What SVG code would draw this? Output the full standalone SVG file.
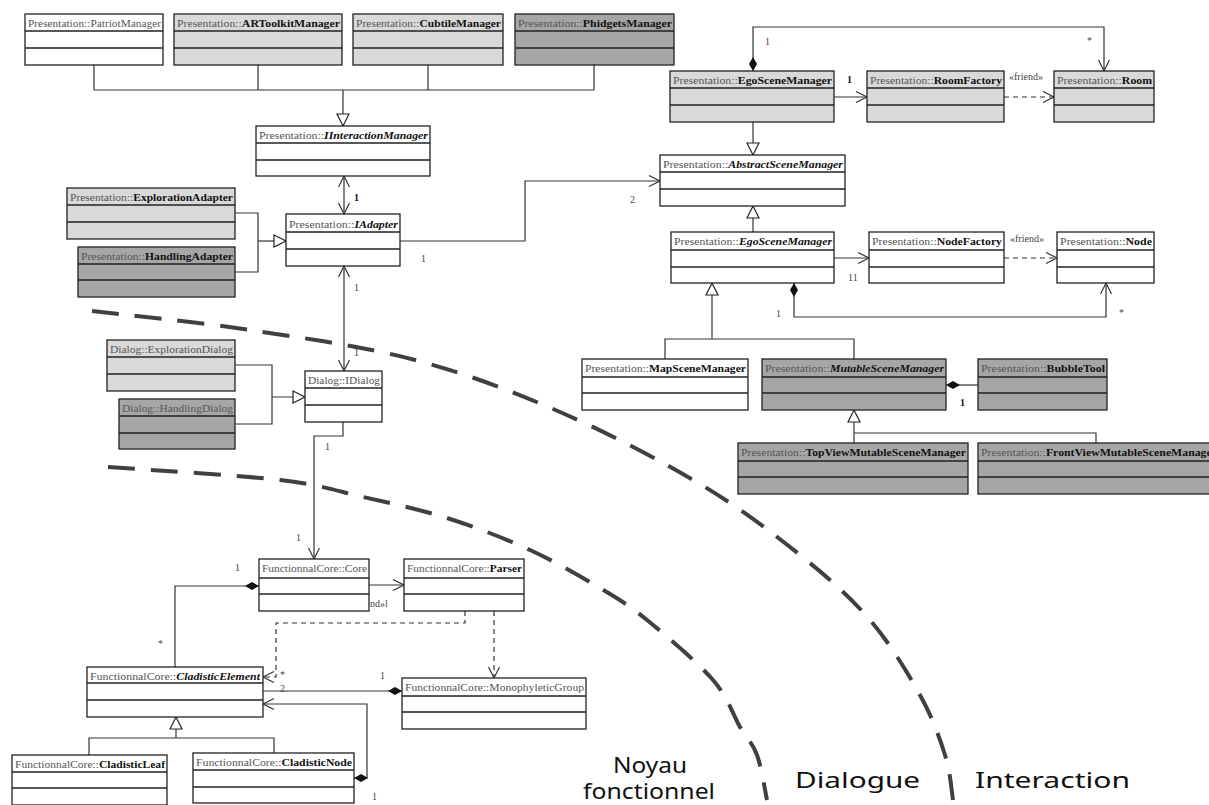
<svg xmlns="http://www.w3.org/2000/svg" width="1209" height="805" viewBox="0 0 1209 805">
<style>
.w{fill:#fff;stroke:#222;stroke-width:1.3}
.l{fill:#d9d9d9;stroke:#222;stroke-width:1.3}
.d{fill:#a6a6a6;stroke:#222;stroke-width:1.3}
.sep{stroke:#222;stroke-width:1.3}
.hd{font-family:"Liberation Serif",serif;font-size:11px;fill:#555}
.b{font-weight:bold;fill:#111}
.bi{font-weight:bold;font-style:italic;fill:#111}
.lbl{font-family:"Liberation Serif",serif;font-size:10px;fill:#444}
.lb{font-weight:bold;fill:#111}
.conn{fill:none;stroke:#333;stroke-width:1.2}
.dash{stroke-dasharray:5,4}
.curve{fill:none;stroke:#404040;stroke-width:4;stroke-dasharray:27,16}
.hand{font-family:"Noto Sans",sans-serif;font-size:21px;fill:#111}
</style>
<defs>
<marker id="tri" markerUnits="userSpaceOnUse" markerWidth="16" markerHeight="16" refX="13" refY="7" orient="auto"><path d="M1,1 L13,7 L1,13 Z" fill="#fff" stroke="#222" stroke-width="1.2"/></marker>
<marker id="open" markerUnits="userSpaceOnUse" markerWidth="14" markerHeight="14" refX="12" refY="6" orient="auto"><path d="M1,0.5 L12,6 L1,11.5" fill="none" stroke="#333" stroke-width="1.2"/></marker>
<marker id="dia" markerUnits="userSpaceOnUse" markerWidth="17" markerHeight="11" refX="1" refY="5" orient="auto"><path d="M1,5 L8,1 L15,5 L8,9 Z" fill="#111"/></marker>
</defs>

<g id="connectors">
<path class="conn" d="M94,65 V90 M258,65 V90 M428,65 V90 M594,65 V90 M94,90 H594"/>
<path class="conn" d="M343,90 V126" marker-end="url(#tri)"/>
<path class="conn" d="M235,213 H258 V272 H235"/>
<path class="conn" d="M258,241 H286" marker-end="url(#tri)"/>
<path class="conn" d="M235,365 H272 V424 H235"/>
<path class="conn" d="M272,397 H305" marker-end="url(#tri)"/>
<path class="conn" d="M753,122 V155" marker-end="url(#tri)"/>
<path class="conn" d="M753,232 V206" marker-end="url(#tri)"/>
<path class="conn" d="M665,359 V339 H854 V359"/>
<path class="conn" d="M712,339 V283" marker-end="url(#tri)"/>
<path class="conn" d="M854,443 V410" marker-end="url(#tri)"/>
<path class="conn" d="M854,433 H1096 V443"/>
<path class="conn" d="M89,755 V738 H274 V753"/>
<path class="conn" d="M176,738 V717" marker-end="url(#tri)"/>
<path class="conn" d="M344,195 V176" marker-end="url(#open)"/>
<path class="conn" d="M344,195 V214" marker-end="url(#open)"/>
<path class="conn" d="M400,241 H525 V181 H660" marker-end="url(#open)"/>
<path class="conn" d="M344,318 V266" marker-end="url(#open)"/>
<path class="conn" d="M344,318 V371" marker-end="url(#open)"/>
<path class="conn" d="M343,422 V436 H314 V559" marker-end="url(#open)"/>
<path class="conn" d="M369,585 H404" marker-end="url(#open)"/>
<path class="conn" d="M259,586 H175 V667" marker-start="url(#dia)"/>
<path class="conn dash" d="M465,611 V623 H276 V677 H263" marker-end="url(#open)"/>
<path class="conn dash" d="M494,611 V678" marker-end="url(#open)"/>
<path class="conn" d="M402,691 H263" marker-start="url(#dia)"/>
<path class="conn" d="M354,778 H367 V704 H263" marker-start="url(#dia)" marker-end="url(#open)"/>
<path class="conn" d="M834,97 H867" marker-end="url(#open)"/>
<path class="conn dash" d="M1004,97 H1054" marker-end="url(#open)"/>
<path class="conn" d="M753,71 V27 H1104 V71" marker-start="url(#dia)" marker-end="url(#open)"/>
<path class="conn" d="M834,258 H869" marker-end="url(#open)"/>
<path class="conn dash" d="M1004,258 H1057" marker-end="url(#open)"/>
<path class="conn" d="M794,283 V317 H1106 V283" marker-start="url(#dia)" marker-end="url(#open)"/>
<path class="conn" d="M946,385 H978" marker-start="url(#dia)"/>
<text class="lbl lb" x="354" y="201">1</text>
<text class="lbl" x="630" y="203">2</text>
<text class="lbl" x="421" y="262">1</text>
<text class="lbl" x="354" y="291">1</text>
<text class="lbl" x="354" y="356">1</text>
<text class="lbl" x="325" y="450">1</text>
<text class="lbl" x="296" y="541">1</text>
<text class="lbl" x="370" y="607">nd»l</text>
<text class="lbl" x="235" y="571">1</text>
<text class="lbl" x="158" y="647">*</text>
<text class="lbl" x="280" y="678">*</text>
<text class="lbl" x="280" y="692">2</text>
<text class="lbl" x="380" y="679">1</text>
<text class="lbl" x="372" y="800">1</text>
<text class="lbl lb" x="847" y="83">1</text>
<text class="lbl" x="1009" y="80">«friend»</text>
<text class="lbl" x="765" y="45">1</text>
<text class="lbl" x="1087" y="44">*</text>
<text class="lbl" x="848" y="281">11</text>
<text class="lbl" x="1010" y="242">«friend»</text>
<text class="lbl" x="776" y="317">1</text>
<text class="lbl" x="1119" y="316">*</text>
<text class="lbl lb" x="960" y="406">1</text>
</g>

<g id="n-patriot"><rect class="w" x="25" y="14" width="138" height="51"/><path class="sep" d="M25,31 H163 M25,48 H163"/><text class="hd" x="28" y="27" textLength="133" lengthAdjust="spacingAndGlyphs">Presentation::PatriotManager</text></g>
<g id="n-artoolkit"><rect class="l" x="174" y="14" width="168" height="51"/><path class="sep" d="M174,31 H342 M174,48 H342"/><text class="hd" x="177" y="27" textLength="163" lengthAdjust="spacingAndGlyphs">Presentation::<tspan class="b">ARToolkitManager</tspan></text></g>
<g id="n-cubtile"><rect class="l" x="353" y="14" width="150" height="51"/><path class="sep" d="M353,31 H503 M353,48 H503"/><text class="hd" x="356" y="27" textLength="145" lengthAdjust="spacingAndGlyphs">Presentation::<tspan class="b">CubtileManager</tspan></text></g>
<g id="n-phidgets"><rect class="d" x="515" y="14" width="159" height="51"/><path class="sep" d="M515,31 H674 M515,48 H674"/><text class="hd" x="518" y="27" textLength="154" lengthAdjust="spacingAndGlyphs">Presentation::<tspan class="b">PhidgetsManager</tspan></text></g>
<g id="n-iinteraction"><rect class="w" x="256" y="126" width="174" height="50"/><path class="sep" d="M256,143 H430 M256,160 H430"/><text class="hd" x="259" y="139" textLength="169" lengthAdjust="spacingAndGlyphs">Presentation::<tspan class="bi">IInteractionManager</tspan></text></g>
<g id="n-iadapter"><rect class="w" x="286" y="214" width="114" height="52"/><path class="sep" d="M286,232 H400 M286,249 H400"/><text class="hd" x="289" y="228" textLength="109" lengthAdjust="spacingAndGlyphs">Presentation::<tspan class="bi">IAdapter</tspan></text></g>
<g id="n-explorationadapter"><rect class="l" x="67" y="188" width="168" height="51"/><path class="sep" d="M67,205 H235 M67,222 H235"/><text class="hd" x="70" y="201" textLength="163" lengthAdjust="spacingAndGlyphs">Presentation::<tspan class="b">ExplorationAdapter</tspan></text></g>
<g id="n-handlingadapter"><rect class="d" x="78" y="247" width="157" height="50"/><path class="sep" d="M78,264 H235 M78,280 H235"/><text class="hd" x="81" y="260" textLength="152" lengthAdjust="spacingAndGlyphs">Presentation::<tspan class="b">HandlingAdapter</tspan></text></g>
<g id="n-explorationdialog"><rect class="l" x="107" y="340" width="128" height="51"/><path class="sep" d="M107,357 H235 M107,374 H235"/><text class="hd" x="110" y="353" textLength="123" lengthAdjust="spacingAndGlyphs">Dialog::ExplorationDialog</text></g>
<g id="n-handlingdialog"><rect class="d" x="119" y="399" width="116" height="50"/><path class="sep" d="M119,416 H235 M119,433 H235"/><text class="hd" x="122" y="412" textLength="111" lengthAdjust="spacingAndGlyphs">Dialog::HandlingDialog</text></g>
<g id="n-idialog"><rect class="w" x="305" y="371" width="77" height="51"/><path class="sep" d="M305,388 H382 M305,405 H382"/><text class="hd" x="308" y="384" textLength="72" lengthAdjust="spacingAndGlyphs">Dialog::IDialog</text></g>
<g id="n-core"><rect class="w" x="259" y="559" width="110" height="52"/><path class="sep" d="M259,578 H369 M259,594 H369"/><text class="hd" x="262" y="572" textLength="105" lengthAdjust="spacingAndGlyphs">FunctionnalCore::Core</text></g>
<g id="n-parser"><rect class="w" x="404" y="559" width="120" height="52"/><path class="sep" d="M404,578 H524 M404,594 H524"/><text class="hd" x="407" y="572" textLength="115" lengthAdjust="spacingAndGlyphs">FunctionnalCore::<tspan class="b">Parser</tspan></text></g>
<g id="n-cladisticelement"><rect class="w" x="87" y="667" width="176" height="50"/><path class="sep" d="M87,683 H263 M87,700 H263"/><text class="hd" x="90" y="680" textLength="170" lengthAdjust="spacingAndGlyphs">FunctionnalCore::<tspan class="bi">CladisticElement</tspan></text></g>
<g id="n-monophyletic"><rect class="w" x="402" y="678" width="184" height="51"/><path class="sep" d="M402,696 H586 M402,712 H586"/><text class="hd" x="405" y="691" textLength="179" lengthAdjust="spacingAndGlyphs">FunctionnalCore::MonophyleticGroup</text></g>
<g id="n-cladisticleaf"><rect class="w" x="12" y="755" width="155" height="50"/><path class="sep" d="M12,772 H167 M12,788 H167"/><text class="hd" x="15" y="768" textLength="150" lengthAdjust="spacingAndGlyphs">FunctionnalCore::<tspan class="b">CladisticLeaf</tspan></text></g>
<g id="n-cladisticnode"><rect class="w" x="193" y="753" width="161" height="50"/><path class="sep" d="M193,770 H354 M193,787 H354"/><text class="hd" x="196" y="766" textLength="156" lengthAdjust="spacingAndGlyphs">FunctionnalCore::<tspan class="b">CladisticNode</tspan></text></g>
<g id="n-egoscene1"><rect class="l" x="670" y="71" width="164" height="51"/><path class="sep" d="M670,88 H834 M670,105 H834"/><text class="hd" x="673" y="84" textLength="159" lengthAdjust="spacingAndGlyphs">Presentation::<tspan class="b">EgoSceneManager</tspan></text></g>
<g id="n-roomfactory"><rect class="l" x="867" y="71" width="137" height="51"/><path class="sep" d="M867,88 H1004 M867,105 H1004"/><text class="hd" x="870" y="84" textLength="132" lengthAdjust="spacingAndGlyphs">Presentation::<tspan class="b">RoomFactory</tspan></text></g>
<g id="n-room"><rect class="l" x="1054" y="71" width="100" height="51"/><path class="sep" d="M1054,88 H1154 M1054,105 H1154"/><text class="hd" x="1057" y="84" textLength="95" lengthAdjust="spacingAndGlyphs">Presentation::<tspan class="b">Room</tspan></text></g>
<g id="n-abstractscene"><rect class="w" x="660" y="155" width="185" height="51"/><path class="sep" d="M660,172 H845 M660,189 H845"/><text class="hd" x="663" y="168" textLength="180" lengthAdjust="spacingAndGlyphs">Presentation::<tspan class="bi">AbstractSceneManager</tspan></text></g>
<g id="n-egoscene2"><rect class="w" x="671" y="232" width="163" height="51"/><path class="sep" d="M671,250 H834 M671,267 H834"/><text class="hd" x="674" y="245" textLength="158" lengthAdjust="spacingAndGlyphs">Presentation::<tspan class="bi">EgoSceneManager</tspan></text></g>
<g id="n-nodefactory"><rect class="w" x="869" y="232" width="135" height="51"/><path class="sep" d="M869,250 H1004 M869,267 H1004"/><text class="hd" x="872" y="245" textLength="130" lengthAdjust="spacingAndGlyphs">Presentation::<tspan class="b">NodeFactory</tspan></text></g>
<g id="n-node"><rect class="w" x="1057" y="232" width="97" height="51"/><path class="sep" d="M1057,250 H1154 M1057,267 H1154"/><text class="hd" x="1060" y="245" textLength="92" lengthAdjust="spacingAndGlyphs">Presentation::<tspan class="b">Node</tspan></text></g>
<g id="n-mapscene"><rect class="w" x="582" y="359" width="166" height="51"/><path class="sep" d="M582,377 H748 M582,393 H748"/><text class="hd" x="585" y="372" textLength="161" lengthAdjust="spacingAndGlyphs">Presentation::<tspan class="b">MapSceneManager</tspan></text></g>
<g id="n-mutablescene"><rect class="d" x="762" y="359" width="184" height="51"/><path class="sep" d="M762,377 H946 M762,393 H946"/><text class="hd" x="765" y="372" textLength="179" lengthAdjust="spacingAndGlyphs">Presentation::<tspan class="bi">MutableSceneManager</tspan></text></g>
<g id="n-bubbletool"><rect class="d" x="978" y="359" width="129" height="51"/><path class="sep" d="M978,377 H1107 M978,393 H1107"/><text class="hd" x="981" y="372" textLength="124" lengthAdjust="spacingAndGlyphs">Presentation::<tspan class="b">BubbleTool</tspan></text></g>
<g id="n-topview"><rect class="d" x="738" y="443" width="230" height="51"/><path class="sep" d="M738,461 H968 M738,477 H968"/><text class="hd" x="741" y="456" textLength="225" lengthAdjust="spacingAndGlyphs">Presentation::<tspan class="b">TopViewMutableSceneManager</tspan></text></g>
<g id="n-frontview"><rect class="d" x="978" y="443" width="236" height="51"/><path class="sep" d="M978,461 H1214 M978,477 H1214"/><text class="hd" x="981" y="456" textLength="236" lengthAdjust="spacingAndGlyphs">Presentation::<tspan class="b">FrontViewMutableSceneManager</tspan></text></g>

<g id="boundaries">
<path class="curve" d="M92,311 C118.3,314.2 196.2,321.8 250,330 C303.8,338.2 363.3,346.3 415,360 C466.7,373.7 512.5,391.3 560,412 C607.5,432.7 660,460.2 700,484 C740,507.8 771.7,532.3 800,555 C828.3,577.7 850,596.7 870,620 C890,643.3 907.5,672.5 920,695 C932.5,717.5 939.5,737.5 945,755 C950.5,772.5 951.7,792.5 953,800"/>
<path class="curve" d="M108,467 C136.7,469.2 237.5,475 280,480 C322.5,485 335.2,490.7 363,497 C390.8,503.3 419.2,509.2 447,518 C474.8,526.8 504.5,538.3 530,550 C555.5,561.7 580.5,576.3 600,588 C619.5,599.7 628.2,604.7 647,620 C665.8,635.3 697.5,662.2 713,680 C728.5,697.8 732.7,714.5 740,727 C747.3,739.5 752.5,742.8 757,755 C761.5,767.2 765.3,792.5 767,800"/>
<text class="hand" x="613" y="773" textLength="74" lengthAdjust="spacingAndGlyphs">Noyau</text>
<text class="hand" x="583" y="799" textLength="132" lengthAdjust="spacingAndGlyphs">fonctionnel</text>
<text class="hand" x="795" y="788" textLength="125" lengthAdjust="spacingAndGlyphs">Dialogue</text>
<text class="hand" x="975" y="788" textLength="155" lengthAdjust="spacingAndGlyphs">Interaction</text>
</g>
</svg>
